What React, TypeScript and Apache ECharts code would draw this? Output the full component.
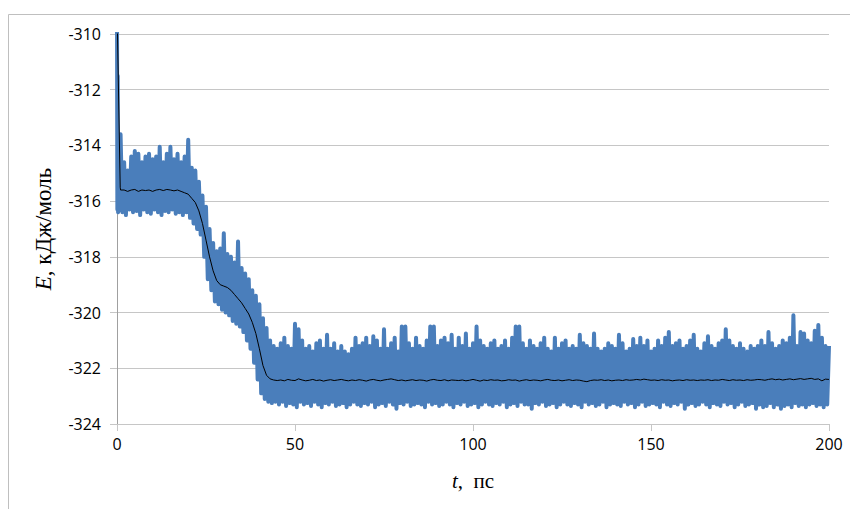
import React, { useEffect, useRef } from 'react';
import * as echarts from 'echarts';

// initial spike of the blue (instantaneous) energy trace
const startT = [0, 0.1, 0.2, 0.3];
const startE = [-309, -316.3, -311.5, -316.4];

// blue trace: peak values at t = 1..200 ps
const highE = [
  -313.6, -314.6, -314.9, -314.4, -314.2, -314.3, -314.6, -314.4, -314.3, -314.5,
  -314.4, -314.05, -314.6, -314.3, -314.05, -314.5, -314.3, -314.6, -314.4, -313.8,
  -314.8, -314.9, -315.3, -315.8, -316.2, -317.0, -317.5, -317.8, -317.7, -317.15,
  -317.9, -318.0, -318.2, -317.45, -318.4, -318.6, -318.8, -319.2, -319.4, -319.7,
  -320.2, -320.55, -321.0, -321.2, -321.3,
  -321.1, -320.9, -321.2, -321.3, -320.4, -320.6, -321.0, -321.3, -321.2, -321.4,
  -321.1, -321.0, -321.3, -320.8, -321.3, -321.1, -321.4, -321.2, -321.4, -321.5,
  -321.3, -320.9, -321.2, -321.1, -320.9, -321.2, -320.85, -321.0, -321.3, -320.6,
  -321.3, -321.1, -320.9, -321.4, -320.5, -320.5, -321.1, -321.3, -320.9, -321.2,
  -321.3, -321.0, -320.5, -320.5, -321.2, -321.0, -320.9, -321.1, -320.8, -321.3,
  -320.9, -321.2, -320.75, -321.3, -321.1, -320.5, -321.0, -321.2, -321.3, -321.1,
  -321.0, -321.3, -321.2, -321.0, -321.3, -320.9, -320.5, -320.5, -321.1, -321.3,
  -321.0, -321.2, -321.3, -321.1, -320.9, -321.3, -321.4, -320.9, -321.3, -321.1,
  -321.0, -321.3, -321.2, -321.3, -320.8, -321.1, -321.2, -321.3, -320.75, -321.3,
  -321.4, -321.3, -321.1, -321.2, -321.3, -320.8, -321.1, -321.4, -321.3, -320.95,
  -321.2, -320.9, -321.2, -321.0, -321.4, -321.3, -321.0, -321.2, -320.9, -320.7,
  -321.2, -321.1, -321.0, -321.3, -321.2, -321.0, -320.8, -321.3, -321.4, -321.1,
  -320.85, -321.2, -321.3, -321.1, -321.0, -320.6, -321.0, -321.2, -321.3, -321.1,
  -321.3, -321.4, -321.2, -321.3, -321.2, -321.0, -321.2, -320.7, -321.1, -321.3,
  -321.2, -321.0, -321.1, -320.9, -320.1, -321.2, -320.7, -320.75, -321.0, -321.1,
  -320.65, -320.45, -320.9, -321.2, -321.2,
];

// blue trace: trough values at t = 0.5..199.5 ps
const lowE = [
  -316.3, -316.4, -316.5, -316.3, -316.4, -316.35, -316.5, -316.3, -316.4, -316.45,
  -316.3, -316.4, -316.5, -316.35, -316.4, -316.3, -316.45, -316.4, -316.5, -316.4,
  -316.6, -316.8, -317.0, -317.2, -318.0, -318.8, -319.2, -319.6, -319.7, -319.9,
  -320.0, -320.1, -320.3, -320.4, -320.5, -320.7, -321.0, -321.3, -321.8, -322.4,
  -322.9, -323.1, -323.2, -323.25, -323.2,
  -323.3, -323.2, -323.35, -323.25, -323.3, -323.4, -323.2, -323.3, -323.25, -323.35,
  -323.2, -323.3, -323.4, -323.25, -323.3, -323.2, -323.35, -323.3, -323.25, -323.4,
  -323.3, -323.2, -323.3, -323.35, -323.25, -323.3, -323.2, -323.4, -323.3, -323.25,
  -323.35, -323.2, -323.3, -323.45, -323.25, -323.3, -323.2, -323.35, -323.3, -323.25,
  -323.3, -323.4, -323.2, -323.3, -323.25, -323.35, -323.3, -323.2, -323.3, -323.4,
  -323.25, -323.3, -323.2, -323.35, -323.3, -323.25, -323.4, -323.3, -323.2, -323.3,
  -323.35, -323.25, -323.3, -323.2, -323.4, -323.3, -323.25, -323.35, -323.2, -323.3,
  -323.3, -323.45, -323.25, -323.3, -323.2, -323.35, -323.3, -323.25, -323.4, -323.3,
  -323.2, -323.3, -323.35, -323.25, -323.3, -323.4, -323.2, -323.3, -323.25, -323.35,
  -323.3, -323.2, -323.4, -323.3, -323.25, -323.3, -323.35, -323.2, -323.3, -323.25,
  -323.4, -323.3, -323.2, -323.35, -323.3, -323.25, -323.3, -323.4, -323.2, -323.3,
  -323.35, -323.25, -323.3, -323.2, -323.45, -323.3, -323.25, -323.35, -323.3, -323.2,
  -323.3, -323.4, -323.25, -323.3, -323.35, -323.2, -323.3, -323.25, -323.4, -323.3,
  -323.2, -323.35, -323.3, -323.25, -323.45, -323.3, -323.4, -323.35, -323.25, -323.4,
  -323.3, -323.45, -323.35, -323.3, -323.4, -323.25, -323.35, -323.3, -323.4, -323.3,
  -323.25, -323.35, -323.3, -323.4, -323.3,
];

// black (running average) line
const blackStartT = [0, 0.9];
const blackStartE = [-309, -315.5];
// values at t = 1..200 ps
const blackE = [
  -315.6, -315.6, -315.65, -315.6, -315.58, -315.65, -315.6, -315.62, -315.6, -315.65,
  -315.6, -315.58, -315.62, -315.58, -315.6, -315.63, -315.6, -315.65, -315.7, -315.75,
  -315.9, -316.05, -316.35, -316.8, -317.4, -318.0, -318.5, -318.85, -319.0, -319.05,
  -319.1, -319.2, -319.35, -319.5, -319.65, -319.85, -320.05, -320.35, -320.75, -321.3,
  -321.9, -322.25, -322.38, -322.42, -322.44,
  -322.42, -322.45, -322.4, -322.43, -322.44, -322.38, -322.42, -322.45, -322.43, -322.4,
  -322.44, -322.42, -322.46, -322.43, -322.41, -322.44, -322.42, -322.4, -322.43, -322.45,
  -322.42, -322.44, -322.41, -322.43, -322.46, -322.42, -322.4, -322.43, -322.45, -322.42,
  -322.4, -322.38, -322.41, -322.44, -322.42, -322.45, -322.43, -322.41, -322.44, -322.42,
  -322.43, -322.46, -322.42, -322.4, -322.43, -322.44, -322.41, -322.45, -322.42, -322.43,
  -322.44, -322.42, -322.45, -322.43, -322.4, -322.43, -322.46, -322.42, -322.44, -322.41,
  -322.43, -322.42, -322.45, -322.44, -322.41, -322.43, -322.42, -322.46, -322.43, -322.41,
  -322.44, -322.42, -322.43, -322.45, -322.42, -322.4, -322.43, -322.44, -322.42, -322.45,
  -322.43, -322.41, -322.44, -322.42, -322.43, -322.46, -322.48, -322.44, -322.42, -322.43,
  -322.41, -322.44, -322.42, -322.45, -322.43, -322.42, -322.44, -322.41, -322.43, -322.42,
  -322.4, -322.42, -322.39, -322.41, -322.43, -322.42, -322.44, -322.41, -322.43, -322.42,
  -322.45, -322.43, -322.42, -322.44, -322.41, -322.43, -322.42, -322.44, -322.42, -322.43,
  -322.41, -322.44, -322.42, -322.43, -322.4, -322.42, -322.44, -322.41, -322.43, -322.42,
  -322.44, -322.41, -322.43, -322.42, -322.4, -322.41, -322.43, -322.4, -322.38, -322.41,
  -322.39, -322.42, -322.4, -322.38, -322.41, -322.39, -322.37, -322.4, -322.38, -322.36,
  -322.4, -322.38, -322.45, -322.39, -322.4,
];

const xMin = 0;
const xMax = 200;
const xStep = 50;
const yMin = -324;
const yMax = -310;
const yStep = 2;

const yName = '{i|E}, кДж/моль';
const xName = '{i|t},  пс';

export default function App() {
  const ref = useRef<HTMLDivElement>(null);
  useEffect(() => {
    document.body.style.margin = '0';
    const chart = echarts.init(ref.current!, null, { renderer: 'svg' });
    const blue: number[][] = startT.map((t, i) => [t, startE[i]]);
    for (let k = 1; k <= highE.length; k++) {
      blue.push([k - 0.5, lowE[k - 1]]);
      blue.push([k, highE[k - 1]]);
    }
    const black: number[][] = blackStartT.map((t, i) => [t, blackStartE[i]]);
    for (let k = 1; k <= blackE.length; k++) black.push([k, blackE[k - 1]]);

    const labelFont = '"Open Sans", sans-serif';
    const serif = '"Liberation Serif", "Times New Roman", serif';
    chart.setOption({
      animation: false,
      backgroundColor: '#ffffff',
      grid: { left: 117, right: 21, top: 34, bottom: 85, containLabel: false },
      graphic: [
        {
          type: 'rect',
          shape: { x: 8.5, y: 14.5, width: 900, height: 600 },
          style: { fill: 'none', stroke: '#bfbfbf', lineWidth: 1 },
          silent: true,
          z: -10,
        },
      ],
      xAxis: {
        type: 'value',
        min: xMin,
        max: xMax,
        interval: xStep,
        axisLine: { show: true, lineStyle: { color: '#c6c6c6', width: 1 } },
        axisTick: { show: true, length: 7, lineStyle: { color: '#c6c6c6' } },
        splitLine: { show: false },
        axisLabel: { color: '#000', fontSize: 16, fontFamily: labelFont, margin: 12 },
        name: xName,
        nameLocation: 'middle',
        nameGap: 46,
        nameTextStyle: {
          color: '#000',
          fontSize: 21,
          fontFamily: serif,
          rich: { i: { fontStyle: 'italic', fontSize: 21, fontFamily: serif, color: '#000' } },
        },
      },
      yAxis: {
        type: 'value',
        min: yMin,
        max: yMax,
        interval: yStep,
        axisLine: { show: true, lineStyle: { color: '#a0a0a0', width: 1 } },
        axisTick: { show: true, length: 7, lineStyle: { color: '#c6c6c6' } },
        splitLine: { show: true, lineStyle: { color: '#c6c6c6', width: 1 } },
        axisLabel: { color: '#000', fontSize: 16, fontFamily: labelFont, margin: 16 },
        name: yName,
        nameLocation: 'middle',
        nameGap: 62,
        nameTextStyle: {
          color: '#000',
          fontSize: 23,
          fontFamily: serif,
          rich: { i: { fontStyle: 'italic', fontSize: 23, fontFamily: serif, color: '#000' } },
        },
      },
      series: [
        {
          type: 'line',
          data: blue,
          showSymbol: false,
          symbol: 'none',
          clip: true,
          lineStyle: { color: '#4a7ebb', width: 4, join: 'round' },
          z: 2,
        },
        {
          type: 'line',
          data: black,
          showSymbol: false,
          symbol: 'none',
          clip: true,
          lineStyle: { color: '#000000', width: 1 },
          z: 3,
        },
      ],
    });
    return () => chart.dispose();
  }, []);
  return <div ref={ref} style={{ width: 850, height: 509 }} />;
}
